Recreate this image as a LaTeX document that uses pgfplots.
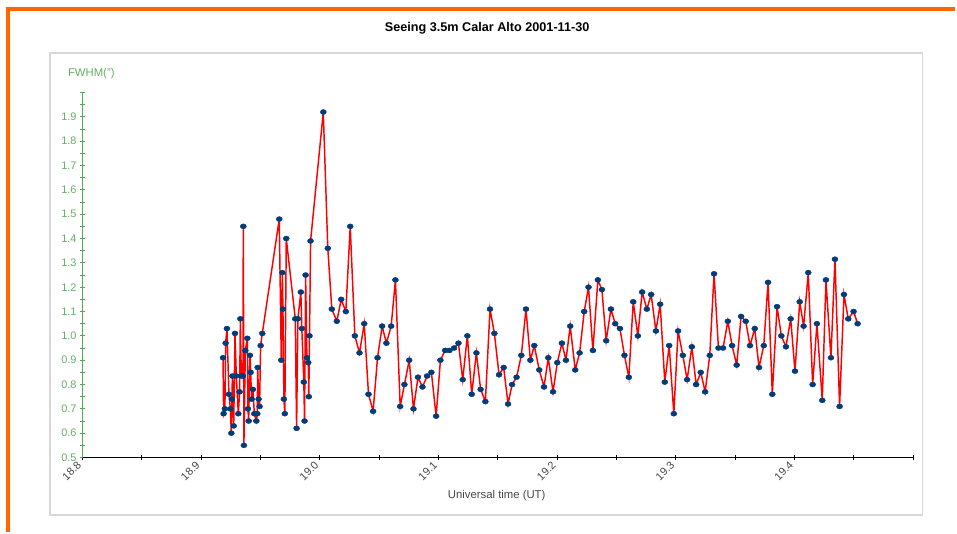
\documentclass[border=0pt]{standalone}
\usepackage{fontspec}
\setmainfont{Liberation Sans}
\usepackage{pgfplots}
\pgfplotsset{compat=1.18}

\definecolor{frameorange}{HTML}{FF6600}
\definecolor{panelgray}{RGB}{215,215,215}
\definecolor{axisgreen}{RGB}{85,168,85}
\definecolor{labelgreen}{RGB}{100,175,100}
\definecolor{markblue}{RGB}{0,59,122}
\definecolor{labelgray}{RGB}{70,70,70}

\begin{document}
\begin{tikzpicture}
% page is 957x533 px, 1 px = 0.75pt
\path (0,0) rectangle (717.75pt,399.75pt);
\draw[frameorange, line width=2.6pt] (4.5pt,392.85pt) -- (717.75pt,392.85pt);
\draw[frameorange, line width=2.6pt] (6pt,394.5pt) -- (6pt,0pt);
\draw[panelgray, line width=1.2pt] (37.5pt,12.75pt) rectangle (693pt,359.8pt);

\node[font=\fontsize{9.5}{11}\selectfont\bfseries] at (366pt,378.8pt) {Seeing 3.5m Calar Alto 2001-11-30};
\node[font=\fontsize{8.5}{10}\selectfont, text=labelgreen] at (68.6pt,344.3pt) {FWHM(")};
\node[font=\fontsize{8.5}{10}\selectfont, text=labelgray] at (373.2pt,27.2pt) {Universal time (UT)};

\begin{axis}[
    at={(62pt,56pt)}, anchor=south west,
    scale only axis,
    width=624.1pt, height=274.2pt,
    xmin=18.8, xmax=19.5,
    ymin=0.5, ymax=2.0,
    axis x line*=bottom, axis y line*=left,
    x axis line style={-, black, line width=0.9pt},
    y axis line style={-, axisgreen, line width=0.9pt},
    xtick={18.8,18.9,19.0,19.1,19.2,19.3,19.4},
    minor xtick={18.85,18.95,19.05,19.15,19.25,19.35,19.45,19.5},
    ytick={0.5,0.6,0.7,0.8,0.9,1.0,1.1,1.2,1.3,1.4,1.5,1.6,1.7,1.8,1.9},
    minor ytick={0.55,0.65,0.75,0.85,0.95,1.05,1.15,1.25,1.35,1.45,1.55,1.65,1.75,1.85,1.95,2.0},
    tick align=center,
    major tick length=4pt, minor tick length=4pt,
    x tick style={black, line width=0.6pt},
    y tick style={axisgreen, line width=0.6pt},
    /pgf/number format/.cd, fixed, fixed zerofill, precision=1, assume math mode=true, /pgfplots/.cd,
    ticklabel style={font=\fontsize{8.2}{10}\selectfont},
    xticklabel style={rotate=45, anchor=east, text=labelgray},
    yticklabel style={text=labelgreen, xshift=1pt},
    clip=false,
]
\addplot[red, line width=1.1pt, mark=*, mark size=1.9pt,
    mark options={fill=markblue, draw=markblue, line width=0.3pt, xscale=1.2}]
coordinates {
(18.9184,0.91) (18.9189,0.68) (18.9200,0.70) (18.9206,0.97) (18.9217,1.03)
(18.9234,0.76) (18.9246,0.70) (18.9254,0.60) (18.9259,0.74) (18.9263,0.835)
(18.9274,0.63) (18.9285,1.01) (18.9296,0.835) (18.9313,0.68) (18.9324,0.77)
(18.9330,1.07) (18.9338,0.835) (18.9352,0.835) (18.9355,1.45) (18.9360,0.55)
(18.9372,0.94) (18.9389,0.99) (18.9394,0.70) (18.9400,0.65) (18.9411,0.92)
(18.9417,0.85) (18.9425,0.74) (18.9436,0.78) (18.9448,0.68) (18.9465,0.65)
(18.9473,0.68) (18.9476,0.87) (18.9484,0.74) (18.9492,0.71) (18.9501,0.96)
(18.9515,1.01)
(18.9658,1.48) (18.9675,0.90) (18.9684,1.26) (18.9689,1.11) (18.9697,0.74)
(18.9705,0.68) (18.9717,1.40) (18.9793,1.07) (18.9804,0.62) (18.9815,1.07)
(18.9840,1.18) (18.9848,1.03) (18.9865,0.81) (18.9871,0.65) (18.9880,1.25)
(18.9891,0.91) (18.9902,0.89) (18.9907,0.75) (18.9913,1.00) (18.9922,1.39)
(19.0029,1.92) (19.0067,1.36) (19.0101,1.11) (19.0143,1.06) (19.0180,1.15)
(19.0219,1.10) (19.0256,1.45) (19.0295,1.00) (19.0334,0.93) (19.0374,1.05)
(19.0410,0.76) (19.0449,0.69) (19.0486,0.91) (19.0525,1.04) (19.0561,0.97)
(19.0601,1.04) (19.0637,1.23) (19.0677,0.71) (19.0713,0.80) (19.0753,0.90)
(19.0789,0.70) (19.0827,0.83) (19.0865,0.79) (19.0904,0.835) (19.0940,0.85)
(19.0980,0.67) (19.1016,0.90) (19.1056,0.94) (19.1092,0.94) (19.1131,0.95)
(19.1168,0.97) (19.1204,0.82) (19.1243,1.00) (19.1280,0.76) (19.1319,0.93)
(19.1355,0.78) (19.1395,0.73) (19.1434,1.11) (19.1471,1.01) (19.1510,0.84)
(19.1549,0.87) (19.1586,0.72) (19.1620,0.80) (19.1658,0.83) (19.1698,0.92)
(19.1737,1.11) (19.1774,0.90) (19.1807,0.96) (19.1849,0.86) (19.1889,0.79)
(19.1925,0.91) (19.1965,0.77) (19.2001,0.89) (19.2040,0.97) (19.2074,0.90)
(19.2110,1.04) (19.2152,0.86) (19.2189,0.93) (19.2228,1.10) (19.2264,1.20)
(19.2301,0.94) (19.2343,1.23) (19.2377,1.19) (19.2413,0.98) (19.2453,1.11)
(19.2489,1.05) (19.2529,1.03) (19.2567,0.92) (19.2604,0.83) (19.2641,1.14)
(19.2680,1.00) (19.2716,1.18) (19.2756,1.11) (19.2792,1.17) (19.2832,1.02)
(19.2868,1.13) (19.2907,0.81) (19.2944,0.96) (19.2983,0.68) (19.3019,1.02)
(19.3059,0.92) (19.3095,0.82) (19.3135,0.955) (19.3171,0.80) (19.3210,0.85)
(19.3247,0.77) (19.3286,0.92) (19.3322,1.255) (19.3359,0.95) (19.3398,0.95)
(19.3438,1.06) (19.3474,0.96) (19.3513,0.88) (19.3550,1.08) (19.3589,1.06)
(19.3625,0.96) (19.3665,1.03) (19.3701,0.87) (19.3741,0.96) (19.3777,1.22)
(19.3813,0.76) (19.3853,1.12) (19.3889,1.00) (19.3928,0.955) (19.3968,1.07)
(19.4004,0.855) (19.4044,1.14) (19.4077,1.04) (19.4116,1.26) (19.4153,0.80)
(19.4189,1.05) (19.4234,0.735) (19.4265,1.23) (19.4307,0.91) (19.4341,1.315)
(19.4380,0.71) (19.4417,1.17) (19.4453,1.07) (19.4498,1.10) (19.4532,1.05)
};
\end{axis}
\end{tikzpicture}
\end{document}
